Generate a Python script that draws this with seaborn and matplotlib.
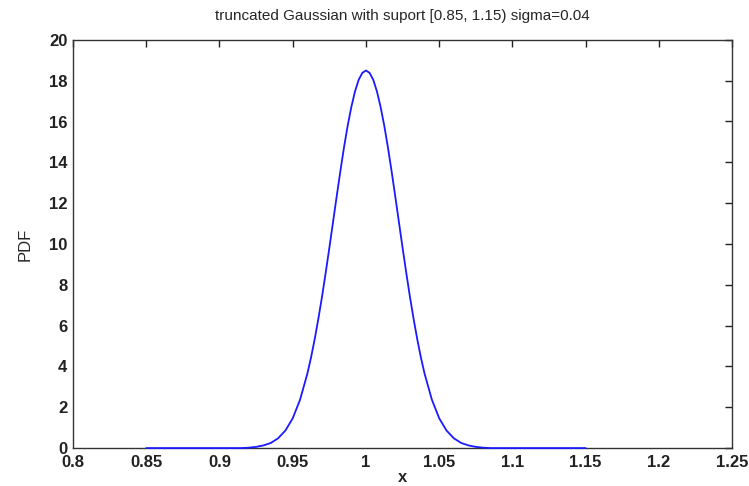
import matplotlib
matplotlib.use("Agg")
import matplotlib.pyplot as plt
import seaborn as sns
import pandas as pd

sns.set_style("white")
plt.rcParams["font.family"] = ["Liberation Sans", "DejaVu Sans"]

# valores (PDF da gaussiana truncada)
x_vals = [0.85, 0.915, 0.92, 0.925, 0.93, 0.935, 0.94, 0.945, 0.95, 0.955,
          0.96, 0.9625, 0.965, 0.9675, 0.97, 0.9725, 0.975, 0.9775, 0.98,
          0.9825, 0.985, 0.9875, 0.99, 0.9925, 0.995, 0.9975, 1.0,
          1.0025, 1.005, 1.0075, 1.01, 1.0125, 1.015, 1.0175, 1.02, 1.0225,
          1.025, 1.0275, 1.03, 1.0325, 1.035, 1.0375, 1.04, 1.045, 1.05,
          1.055, 1.06, 1.065, 1.07, 1.075, 1.08, 1.085, 1.15]
pdf_vals = [0.0, 0.0, 0.02, 0.06, 0.13, 0.25, 0.48, 0.86, 1.46, 2.37,
            3.65, 4.44, 5.34, 6.34, 7.42, 8.59, 9.81, 11.07, 12.33,
            13.56, 14.73, 15.79, 16.71, 17.47, 18.04, 18.38, 18.50,
            18.38, 18.04, 17.47, 16.71, 15.79, 14.73, 13.56, 12.33, 11.07,
            9.81, 8.59, 7.42, 6.34, 5.34, 4.44, 3.65, 2.37, 1.46,
            0.86, 0.48, 0.25, 0.13, 0.06, 0.02, 0.0, 0.0]
x_ticks = [0.8, 0.85, 0.9, 0.95, 1, 1.05, 1.1, 1.15, 1.2, 1.25]
x_ticklabels = ["0.8", "0.85", "0.9", "0.95", "1", "1.05", "1.1", "1.15", "1.2", "1.25"]
y_ticks = [0, 2, 4, 6, 8, 10, 12, 14, 16, 18, 20]

df = pd.DataFrame({"x": x_vals, "PDF": pdf_vals})

fig = plt.figure(figsize=(7.49, 4.86), dpi=100)
ax = fig.add_axes([0.0975, 0.078, 0.880, 0.840])

sns.lineplot(data=df, x="x", y="PDF", ax=ax, color="#1a1aff", linewidth=1.3,
             clip_on=False, zorder=5)

ax.set_xlim(0.8, 1.25)
ax.set_ylim(0, 20)
ax.set_xticks(x_ticks)
ax.set_xticklabels(x_ticklabels)
ax.set_yticks(y_ticks)
ax.tick_params(direction="in", length=5, width=1, top=True, right=True,
               labelsize=12, colors="#222222")
ax.tick_params(axis="x", pad=5)
ax.tick_params(axis="y", pad=4)
for lab in ax.get_xticklabels() + ax.get_yticklabels():
    lab.set_fontweight("bold")
for s in ax.spines.values():
    s.set_color("#333333")
    s.set_linewidth(1.0)

ax.set_xlabel("x", fontsize=12, fontweight="bold", labelpad=0)
ax.set_ylabel("PDF", fontsize=12, labelpad=12)
ax.set_title("truncated Gaussian with suport [0.85, 1.15) sigma=0.04",
             fontsize=11, pad=14)

fig.savefig("out.png", dpi=100)
